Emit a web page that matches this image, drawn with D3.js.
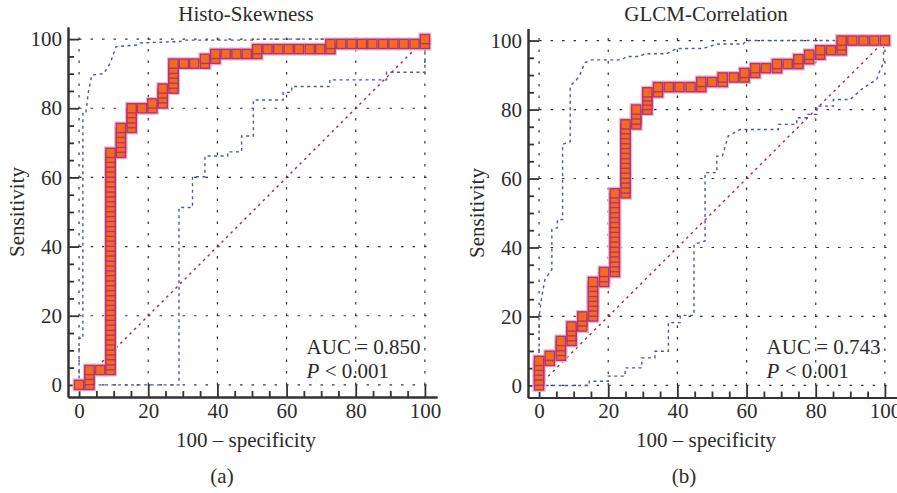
<!DOCTYPE html>
<html>
<head>
<meta charset="utf-8">
<script src="https://cdn.jsdelivr.net/npm/d3@7"></script>
<style>
  body { margin: 0; background: #fff; }
  svg text { font-family: "Liberation Serif", serif; fill: #2b2b2b; }
</style>
</head>
<body>
<svg id="chart"></svg>
<script>
// Tick values
const majorTicks = [0, 20, 40, 60, 80, 100];
const minorTicks = [5, 10, 15, 25, 30, 35, 45, 50, 55, 65, 70, 75, 85, 90, 95];

// Reference diagonal
const chanceLine = [[0, 0], [100, 100]];

// Histo-Skewness: [100 - specificity, [sensitivity values at that criterion]]
const skewRoc = [
  [0, [0]],
  [3.0, [0, 1.4, 2.9, 4.3]],
  [6.1, [4.3]],
  [9.1, [4.3, 5.7, 7.1, 8.6, 10.0, 11.4, 12.9, 14.3, 15.7, 17.1, 18.6, 20.0, 21.4, 22.9, 24.3, 25.7,
         27.1, 28.6, 30.0, 31.4, 32.9, 34.3, 35.7, 37.1, 38.6, 40.0, 41.4, 42.9, 44.3, 45.7, 47.1,
         48.6, 50.0, 51.4, 52.9, 54.3, 55.7, 57.1, 58.6, 60.0, 61.4, 62.9, 64.3, 65.7, 67.1]],
  [12.1, [67.1, 68.6, 70.0, 71.4, 72.9, 74.3]],
  [15.2, [74.3, 75.7, 77.1, 78.6, 80.0]],
  [18.2, [80.0]],
  [21.2, [80.0, 81.4]],
  [24.2, [81.4, 82.9, 84.3, 85.7]],
  [27.3, [85.7, 87.1, 88.6, 90.0, 91.4, 92.9]],
  [30.3, [92.9]],
  [33.3, [92.9]],
  [36.4, [92.9, 94.3]],
  [39.4, [94.3, 95.7]],
  [42.4, [95.7]],
  [45.5, [95.7]],
  [48.5, [95.7]],
  [51.5, [95.7, 97.1]],
  [54.5, [97.1]], [57.6, [97.1]], [60.6, [97.1]], [63.6, [97.1]], [66.7, [97.1]], [69.7, [97.1]],
  [72.7, [97.1, 98.6]],
  [75.8, [98.6]], [78.8, [98.6]], [81.8, [98.6]], [84.8, [98.6]],
  [87.9, [98.6]], [90.9, [98.6]], [93.9, [98.6]], [97.0, [98.6]],
  [100, [98.6, 100]]
];
const skewUpper = [
  [0, 0], [0, 13.5], [1.1, 13.5], [1.1, 79], [2.0, 79], [2.7, 84.8], [3.7, 89.6], [7.1, 90],
  [9.0, 93], [10.7, 97.8], [16.7, 98.3], [17.6, 98.9], [29.2, 99.3], [31, 99.7], [50, 99.7],
  [52, 100], [100, 100]
];
const skewLower = [
  [0, 0], [28.9, 0], [28.9, 51.3], [32.8, 51.3], [32.8, 60.2], [36.4, 60.2], [36.4, 66.2],
  [43, 66.2], [43, 67.4], [47, 67.4], [47, 72], [50.4, 72], [50.4, 82.4], [59, 82.4],
  [59, 84.6], [61.5, 84.6], [61.5, 86.3], [72.5, 86.3], [72.5, 88.2], [88.9, 88.2],
  [88.9, 90.4], [100, 90.4], [100, 100]
];

// GLCM-Correlation
const corrRoc = [
  [0, [0, 1.4, 2.9, 4.3, 5.7, 7.1]],
  [3.1, [7.1, 8.6]],
  [6.3, [8.6, 10.0, 11.4, 12.9]],
  [9.4, [12.9, 14.3, 15.7, 17.1]],
  [12.5, [17.1, 18.6, 20.0]],
  [15.6, [20.0, 21.4, 22.9, 24.3, 25.7, 27.1, 28.6, 30.0]],
  [18.8, [30.0, 31.4, 32.9]],
  [21.9, [32.9, 34.3, 35.7, 37.1, 38.6, 40.0, 41.4, 42.9, 44.3, 45.7, 47.1, 48.6, 50.0, 51.4,
          52.9, 54.3, 55.7]],
  [25.0, [55.7, 57.1, 58.6, 60.0, 61.4, 62.9, 64.3, 65.7, 67.1, 68.6, 70.0, 71.4, 72.9, 74.3, 75.7]],
  [28.1, [75.7, 77.1, 78.6, 80.0]],
  [31.3, [80.0, 81.3, 82.6, 83.8, 85.0]],
  [34.4, [85.0, 86.5]],
  [37.5, [86.5]], [40.6, [86.5]], [43.8, [86.5]],
  [46.9, [86.5, 88.0]],
  [50.0, [88.0]],
  [53.1, [88.0, 89.3]],
  [56.3, [89.3]],
  [59.4, [89.3, 90.6]],
  [62.5, [90.6, 92.0]],
  [65.6, [92.0]],
  [68.8, [92.0, 93.2]],
  [71.9, [93.2]],
  [75.0, [93.2, 94.6]],
  [78.1, [94.6, 95.9]],
  [81.3, [95.9, 97.2]],
  [84.4, [97.2]],
  [87.5, [97.2, 98.6, 100]],
  [90.6, [100]], [93.8, [100]], [96.9, [100]], [100, [100]]
];
const corrUpper = [
  [0, 0], [0, 20], [0.8, 25.9], [1.7, 30.7], [3.7, 33.6], [3.7, 45.2], [5.3, 45.7], [5.3, 48.1],
  [6.8, 48.1], [6.8, 69.9], [9.0, 70.7], [9.0, 86.8], [10.9, 88.7], [11.8, 90.1], [13.3, 93.6],
  [15.2, 94.4], [23.9, 94.4], [25.3, 95.4], [29.2, 95.4], [30.6, 96.2], [36.9, 96.2],
  [39.8, 97.7], [47.4, 97.7], [51.4, 99.0], [59, 99.0], [60, 100], [100, 100]
];
const corrLower = [
  [0, 0], [14.5, 0], [14.5, 1.2], [20, 1.2], [20, 2.7], [24.9, 2.7], [24.9, 5.1], [29.7, 5.1],
  [29.7, 8.0], [33.5, 8.0], [33.5, 9.9], [37.4, 9.9], [37.4, 18.2], [40.8, 18.2], [40.8, 20.3],
  [44.8, 20.3], [44.8, 40.9], [48, 41.9], [48, 61.7], [51.4, 61.7], [51.4, 66.5], [53, 66.5],
  [54.7, 72.3], [58.1, 74.2], [69.2, 74.2], [69.2, 75.7], [74.5, 75.7], [74.5, 77.6],
  [77.4, 77.6], [77.4, 78.6], [80.3, 78.6], [80.3, 81], [85.1, 81], [85.1, 82.9], [89.9, 82.9],
  [93.8, 86.3], [97.6, 88.7], [98.6, 91.4], [99.6, 93.5], [99.6, 100]
];

const panels = [
  { title: "Histo-Skewness", roc: skewRoc, upper: skewUpper, lower: skewLower,
    auc: "AUC = 0.850", tag: "(a)", tagX: 222, left: 68, top: 27, bottom: 397 },
  { title: "GLCM-Correlation", roc: corrRoc, upper: corrUpper, lower: corrLower,
    auc: "AUC = 0.743", tag: "(b)", tagX: 684, left: 528, top: 28.5, bottom: 397.5 }
];

const fontSize = 21;

const svg = d3.select("#chart").attr("width", 897).attr("height", 493);
svg.append("rect").attr("width", 897).attr("height", 493).attr("fill", "#fff");

function drawPanel(p) {
  const x = d3.scaleLinear().domain([-3.2, 103.5]).range([p.left, p.left + 369]);
  const y = d3.scaleLinear().domain([-3.5, 103.5]).range([p.bottom, p.top]);
  const g = svg.append("g");

  // dotted grid
  g.selectAll(null).data(majorTicks).join("line")
    .attr("x1", x(0)).attr("x2", x(101.5))
    .attr("y1", d => y(d)).attr("y2", d => y(d))
    .attr("stroke", "#333").attr("stroke-width", 1.2).attr("stroke-dasharray", "2.5,9");
  g.selectAll(null).data(majorTicks).join("line")
    .attr("y1", y(0)).attr("y2", y(101.5))
    .attr("x1", d => x(d)).attr("x2", d => x(d))
    .attr("stroke", "#333").attr("stroke-width", 1.2).attr("stroke-dasharray", "2.5,9");

  // axes (ticks pointing inward)
  const styleAxis = sel => {
    sel.select(".domain").attr("stroke", "#333").attr("stroke-width", 2);
    sel.selectAll(".tick line").attr("stroke", "#333").attr("stroke-width", 1.8);
    sel.selectAll("text").attr("font-size", fontSize).attr("font-family", "Liberation Serif").attr("fill", "#2b2b2b");
  };
  g.append("g").attr("transform", `translate(${p.left},0)`)
    .call(d3.axisLeft(y).tickValues(minorTicks).tickSize(-6).tickSizeOuter(0).tickFormat(""))
    .call(styleAxis);
  g.append("g").attr("transform", `translate(${p.left},0)`)
    .call(d3.axisLeft(y).tickValues(majorTicks).tickSize(-11).tickSizeOuter(0).tickPadding(6))
    .call(styleAxis);
  g.append("g").attr("transform", `translate(0,${p.bottom})`)
    .call(d3.axisBottom(x).tickValues(minorTicks).tickSize(-6).tickSizeOuter(0).tickFormat(""))
    .call(styleAxis);
  g.append("g").attr("transform", `translate(0,${p.bottom})`)
    .call(d3.axisBottom(x).tickValues(majorTicks).tickSize(-12).tickSizeOuter(0).tickPadding(6))
    .call(styleAxis);

  const line = d3.line().x(d => x(d[0])).y(d => y(d[1]));

  // diagonal reference line
  g.append("path").datum(chanceLine).attr("d", line)
    .attr("fill", "none").attr("stroke", "#b3203a").attr("stroke-width", 1.4)
    .attr("stroke-dasharray", "2.5,4");

  // confidence bounds
  [p.upper, p.lower].forEach(band => {
    g.append("path").datum(band).attr("d", line)
      .attr("fill", "none").attr("stroke", "#4a55b2").attr("stroke-width", 1.4)
      .attr("stroke-dasharray", "3,3.5");
  });

  // ROC curve
  const pts = p.roc.flatMap(([fx, ys]) => ys.map(sy => [fx, sy]));
  g.append("path").datum(pts).attr("d", line)
    .attr("fill", "none").attr("stroke", "#8e3b8c").attr("stroke-width", 1.6);
  g.selectAll(null).data(pts).join("rect")
    .attr("x", d => x(d[0]) - 6.5).attr("y", d => y(d[1]) - 6.5)
    .attr("width", 13).attr("height", 13)
    .attr("fill", "#ebb6d1");
  g.selectAll(null).data(pts).join("rect")
    .attr("x", d => x(d[0]) - 4.6).attr("y", d => y(d[1]) - 4.6)
    .attr("width", 9.2).attr("height", 9.2)
    .attr("fill", "#f46b20").attr("stroke", "#b4346f").attr("stroke-width", 1.4);

  // texts
  g.append("text").attr("x", p.left + 178).attr("y", 21)
    .attr("text-anchor", "middle").attr("font-size", fontSize).text(p.title);
  g.append("text").attr("x", p.left + 178).attr("y", 447)
    .attr("text-anchor", "middle").attr("font-size", fontSize).text("100 \u2013 specificity");
  g.append("text").attr("transform", `translate(${p.left - 44},${y(50)}) rotate(-90)`)
    .attr("text-anchor", "middle").attr("font-size", fontSize).text("Sensitivity");
  g.append("text").attr("x", p.tagX).attr("y", 483)
    .attr("text-anchor", "middle").attr("font-size", fontSize).text(p.tag);

  g.append("text").attr("x", x(65.8)).attr("y", y(0) - 31)
    .attr("font-size", fontSize).text(p.auc);
  const pt = g.append("text").attr("x", x(65.8)).attr("y", y(0) - 7).attr("font-size", fontSize);
  pt.append("tspan").attr("font-style", "italic").text("P");
  pt.append("tspan").text(" < 0.001");
}

panels.forEach(drawPanel);
</script>
</body>
</html>
